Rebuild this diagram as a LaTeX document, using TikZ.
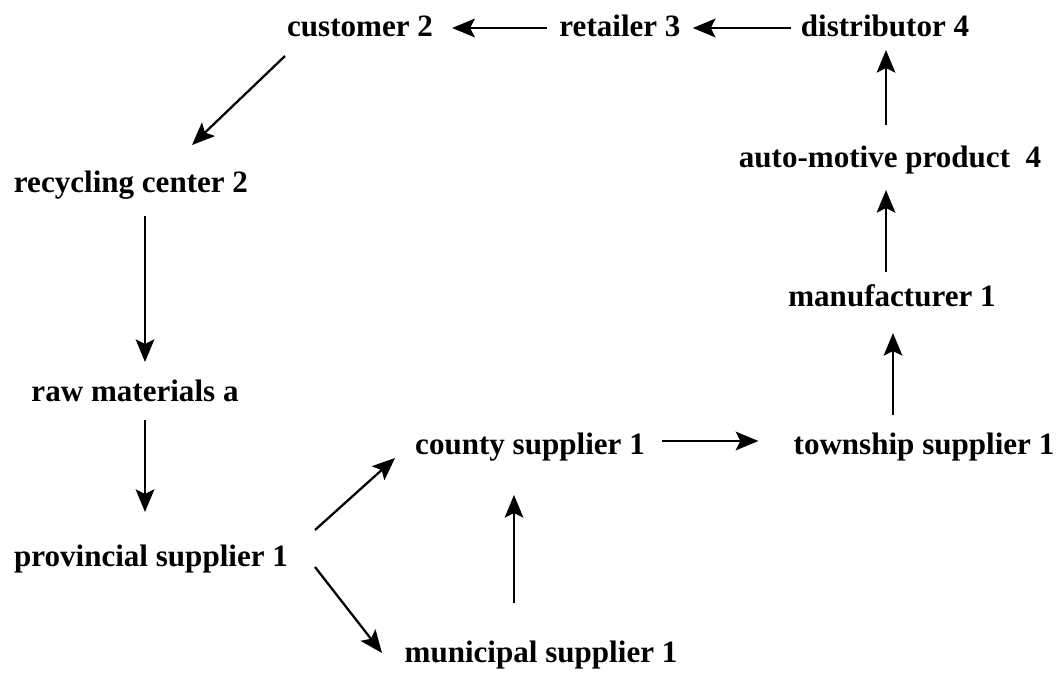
\documentclass[tikz,border=0pt]{standalone}
\usepackage{fontspec}
\setmainfont{Liberation Serif}
\usetikzlibrary{arrows.meta}
\begin{document}
\begin{tikzpicture}[x=0.75pt,y=-0.75pt,
  lbl/.style={font=\fontsize{23.3}{28}\selectfont\bfseries, inner sep=0pt, anchor=base},
  arr/.style={-{Stealth[length=17pt,width=14pt,inset=3.5pt]}, line width=1.7pt}]
\useasboundingbox (0,0) rectangle (1060,673);

% labels, placed by their baselines
\node[lbl] (cust)   at (360,37)  {customer 2};
\node[lbl] (ret)    at (620,37)  {retailer 3};
\node[lbl] (dist)   at (885,37)  {distributor 4};
\node[lbl] (auto)   at (890,168) {auto-motive product~~4};
\node[lbl] (manu)   at (892,307) {manufacturer 1};
\node[lbl] (rec)    at (131,193) {recycling center 2};
\node[lbl] (raw)    at (135,402) {raw materials a};
\node[lbl] (prov)   at (151,566) {provincial supplier 1};
\node[lbl] (county) at (530,455) {county supplier 1};
\node[lbl] (town)   at (924,455) {township supplier 1};
\node[lbl] (muni)   at (541,662) {municipal supplier 1};

% flows
\draw[arr] ([shift={(-12,-9)}]ret.base west) -- ([shift={(19,-9)}]cust.base east);
\draw[arr] ([shift={(-10,-9)}]dist.base west) -- ([shift={(12,-9)}]ret.base east);
\draw[arr] ([shift={(-75,19)}]cust.base) -- ([shift={(61,-48)}]rec.base);
\draw[arr] ([shift={(14,23)}]rec.base) -- ([shift={(10,-40)}]raw.base);
\draw[arr] ([shift={(10,18)}]raw.base) -- ([shift={(-6,-54)}]prov.base);
\draw[arr] ([shift={(164,-36)}]prov.base) -- ([shift={(-135,3)}]county.base);
\draw[arr] ([shift={(164,1)}]prov.base) -- ([shift={(-159,-9)}]muni.base);
\draw[arr] ([shift={(-27,-59)}]muni.base) -- ([shift={(-16,40)}]county.base);
\draw[arr] ([shift={(17,-14)}]county.base east) -- ([shift={(-35,-14)}]town.base west);
\draw[arr] ([shift={(-31,-40)}]town.base) -- ([shift={(1,26)}]manu.base);
\draw[arr] ([shift={(-6,-35)}]manu.base) -- ([shift={(-4,22)}]auto.base);
\draw[arr] ([shift={(-4,-43)}]auto.base) -- ([shift={(1,13)}]dist.base);
\end{tikzpicture}
\end{document}
